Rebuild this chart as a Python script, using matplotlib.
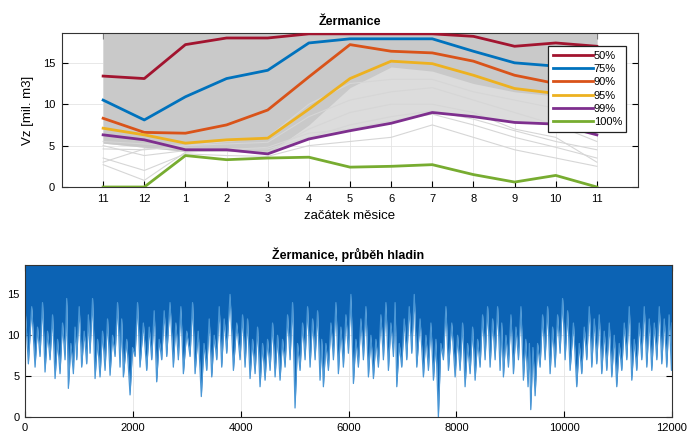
import matplotlib
matplotlib.use('Agg')
import matplotlib.pyplot as plt

plt.rcParams['font.family'] = ['Liberation Sans', 'DejaVu Sans']

# horni graf - zacatek mesice (listopad .. listopad)
mesice = ['11', '12', '1', '2', '3', '4', '5', '6', '7', '8', '9', '10', '11']
p50 = [13.4, 13.1, 17.2, 18.0, 18.0, 18.5, 18.5, 18.5, 18.5, 18.2, 17.0, 17.4, 17.0]
p75 = [10.5, 8.1, 10.9, 13.1, 14.1, 17.4, 17.9, 17.9, 17.9, 16.4, 15.0, 14.6, 14.3]
p90 = [8.3, 6.6, 6.5, 7.5, 9.3, 13.3, 17.2, 16.4, 16.2, 15.2, 13.5, 12.5, 12.0]
p95 = [7.1, 6.3, 5.3, 5.7, 5.9, 9.4, 13.1, 15.2, 14.9, 13.5, 11.9, 11.3, 11.0]
p99 = [6.3, 5.7, 4.5, 4.5, 4.0, 5.8, 6.8, 7.7, 9.0, 8.5, 7.8, 7.6, 6.3]
p100 = [0.0, 0.0, 3.8, 3.3, 3.5, 3.6, 2.4, 2.5, 2.7, 1.5, 0.6, 1.4, 0.0]
urovne = ['50%', '75%', '90%', '95%', '99%', '100%']

# husty svazek jednotlivych let (seda plocha) a par volnych car pod nim
sede_dole = [5.3, 4.8, 4.3, 4.4, 4.0, 7.5, 12.0, 14.5, 14.0, 12.5, 11.5, 11.0, 10.8]
svetle_dole = [5.3, 4.8, 4.3, 4.4, 4.0, 5.8, 6.8, 7.7, 9.0, 8.5, 7.8, 7.6, 6.3]
roky = [
    [2.7, 0.8, 4.2, 4.5, 4.8, 6.5, 7.0, 8.0, 8.8, 7.5, 6.0, 4.8, 3.5],
    [3.0, 4.6, 4.7, 4.6, 4.6, 6.0, 7.5, 8.5, 9.2, 8.2, 6.8, 5.5, 4.5],
    [4.6, 4.5, 5.0, 5.2, 5.4, 8.5, 10.5, 11.5, 12.0, 10.5, 9.0, 7.5, 5.5],
    [5.0, 3.8, 4.4, 4.3, 4.2, 7.0, 9.0, 10.0, 10.0, 9.0, 7.0, 6.0, 3.0],
    [5.5, 5.2, 5.0, 5.5, 6.0, 10.0, 12.5, 13.0, 13.0, 11.5, 10.5, 9.5, 9.0],
    [3.5, 2.0, 4.0, 3.8, 3.7, 5.0, 5.5, 6.0, 7.5, 6.0, 4.5, 3.5, 2.5],
]

# dolni graf - minima poklesu hladiny a uroven mezi nimi
pokles_t = [62, 186, 278, 371, 464, 557, 649, 742, 804, 897, 959, 1051, 1144, 1206, 1299, 1391,
            1484, 1577, 1670, 1762, 1824, 1948, 2041, 2133, 2257, 2350, 2442, 2535, 2628, 2751, 2844, 2937,
            3061, 3154, 3270, 3370, 3463, 3556, 3648, 3741, 3865, 3988, 4081, 4174, 4267, 4359, 4452, 4545,
            4638, 4730, 4823, 4916, 5008, 5101, 5194, 5287, 5380, 5472, 5534, 5627, 5720, 5812, 5905,
            5998, 6091, 6183, 6276, 6369, 6462, 6554, 6647, 6740, 6833, 6895, 6987, 7080, 7173, 7266, 7389,
            7482, 7575, 7667, 7760, 7853, 7977, 8069, 8162, 8255, 8348, 8440, 8533, 8626, 8719, 8811,
            8873, 8966, 9059, 9152, 9244, 9330, 9380, 9461, 9553, 9646, 9739, 9832, 9924, 10017, 10110,
            10233, 10326, 10419, 10512, 10604, 10697, 10790, 10883, 10975, 11068, 11161, 11254, 11346,
            11439, 11532, 11625, 11718, 11810, 11903, 11990]
pokles_v = [6.5, 6.1, 7.4, 5.5, 7.0, 4.7, 5.3, 7.0, 3.5, 5.3, 7.0, 6.1, 6.5, 7.8, 4.7, 4.9,
            5.7, 5.1, 7.4, 6.1, 4.9, 2.7, 7.4, 6.1, 5.7, 7.0, 4.3, 7.0, 7.4, 6.1, 7.0, 5.3,
            7.4, 5.3, 2.5, 5.7, 4.9, 7.0, 6.1, 7.8, 5.7, 7.0, 6.1, 4.7, 5.3, 3.7, 4.5, 5.7,
            4.9, 4.5, 6.1, 7.0, 1.1, 5.7, 7.0, 6.1, 7.0, 4.5, 3.7, 5.7, 7.0, 5.3, 6.1,
            7.8, 4.1, 6.1, 7.0, 4.9, 4.7, 6.1, 7.0, 5.7, 7.4, 3.7, 6.1, 7.0, 7.8, 6.1, 4.9,
            5.7, 4.5, 0.0, 7.0, 5.7, 4.9, 5.7, 3.7, 5.3, 4.5, 6.1, 7.0, 6.1, 7.0, 5.7,
            4.9, 6.1, 5.3, 7.0, 4.5, 3.7, 0.9, 2.6, 6.1, 7.0, 5.3, 6.1, 7.8, 7.0, 5.7,
            3.7, 5.3, 7.0, 6.1, 6.5, 5.3, 5.7, 4.9, 3.7, 5.7, 7.0, 4.5, 5.7,
            7.0, 6.1, 5.7, 7.0, 6.5, 6.1, 5.7]
mezi_v = [13.5, 11.0, 14.0, 10.5, 12.5, 9.5, 11.5, 14.5, 9.0, 11.0, 13.5, 10.5, 12.5, 14.5, 9.5, 10.5,
          12.0, 10.0, 14.0, 12.0, 9.5, 8.5, 14.0, 11.5, 11.0, 13.0, 9.5, 13.0, 14.0, 11.5, 13.5, 10.5,
          14.0, 10.5, 9.0, 12.0, 10.0, 13.5, 12.0, 15.0, 11.5, 12.5, 12.0, 9.5, 11.0, 9.0, 9.5, 11.5,
          10.0, 9.5, 12.5, 14.0, 9.0, 11.5, 13.5, 12.0, 13.0, 9.5, 9.0, 11.5, 14.0, 11.0, 12.5,
          15.0, 9.5, 12.0, 13.5, 10.0, 9.5, 12.5, 14.0, 11.5, 14.0, 9.0, 12.0, 13.5, 15.0, 12.0, 10.0,
          11.5, 9.5, 9.0, 13.5, 11.5, 10.0, 11.5, 9.0, 11.0, 9.5, 12.5, 13.5, 12.0, 13.5, 11.5,
          10.0, 12.5, 11.0, 13.5, 9.5, 9.0, 8.5, 9.0, 12.5, 13.5, 11.0, 12.5, 14.5, 13.0, 11.5,
          9.0, 11.0, 13.5, 12.0, 12.5, 10.5, 11.5, 10.0, 9.0, 11.5, 13.5, 9.5, 11.5,
          13.5, 12.0, 11.5, 13.5, 12.0, 12.5, 11.5]
assert len(pokles_t) == len(pokles_v) == len(mezi_v)

barvy = ['#A2142F', '#0072BD', '#D95319', '#EDB120', '#7E2F8E', '#77AC30']
ytop = 18.6
x = list(range(len(mesice)))

fig = plt.figure(figsize=(6.91, 4.34), dpi=100)

# ---- horni graf ----
ax = fig.add_axes([0.0897, 0.5691, 0.8336, 0.3548])
ax.fill_between(x, svetle_dole, ytop, color='#dcdcdc', lw=0, zorder=1)
ax.fill_between(x, sede_dole, ytop, color='#c9c9c9', lw=0, zorder=1)
for r in roky:
    ax.plot(x, r, color='#d6d6d6', lw=0.8, zorder=1.5)
for data, c, lab in zip([p50, p75, p90, p95, p99, p100], barvy, urovne):
    ax.plot(x, data, color=c, lw=2, label=lab, zorder=3)
ax.set_xlim(-1, 13)
ax.set_ylim(0, ytop)
ax.set_xticks(x)
ax.set_xticklabels(mesice)
ax.set_yticks([0, 5, 10, 15])
ax.grid(True, color='#e4e4e4', lw=0.6, zorder=0)
ax.set_axisbelow(True)
ax.tick_params(direction='in', length=4, top=True, right=True, labelsize=8, pad=5)
ax.set_title('Žermanice', fontsize=9, fontweight='bold', pad=6)
ax.set_xlabel('začátek měsice', fontsize=9.5, labelpad=4)
ax.set_ylabel('Vz [mil. m3]', fontsize=9.5, labelpad=6)
for s in ax.spines.values():
    s.set_color('#333333')
leg = ax.legend(loc='upper right', bbox_to_anchor=(0.98, 0.915), fontsize=8, frameon=True,
                fancybox=False, edgecolor='#222222', framealpha=1, handlelength=3.6,
                handletextpad=0.1, labelspacing=0.3, borderpad=0.4, borderaxespad=0)
leg.get_frame().set_linewidth(0.9)

# ---- dolni graf ----
# pila: minimum poklesu, mezi dvema poklesy navrat na uroven mezi_v
tt = [0]
vv = [mezi_v[0]]
for i in range(len(pokles_t)):
    tt.append(pokles_t[i])
    vv.append(pokles_v[i])
    if i + 1 < len(pokles_t):
        tt.append((pokles_t[i] + pokles_t[i + 1]) / 2)
    else:
        tt.append(12000)
    vv.append(mezi_v[i])

ax2 = fig.add_axes([0.0362, 0.0392, 0.9363, 0.3502])
ax2.fill_between(tt, vv, ytop, color='#0c63b4', lw=0, zorder=2)
ax2.plot(tt, vv, color='#4a97d6', lw=0.9, zorder=2.5)
ax2.set_xlim(0, 12000)
ax2.set_ylim(0, ytop)
ax2.set_xticks(range(0, 12001, 2000))
ax2.set_yticks([0, 5, 10, 15])
ax2.grid(True, color='#e4e4e4', lw=0.6, zorder=0)
ax2.tick_params(direction='in', length=4, top=True, right=True, labelsize=8, pad=4)
ax2.set_title('Žermanice, průběh hladin', fontsize=9, fontweight='bold', pad=4)
for s in ax2.spines.values():
    s.set_color('#333333')

fig.savefig('out.png', dpi=100)
